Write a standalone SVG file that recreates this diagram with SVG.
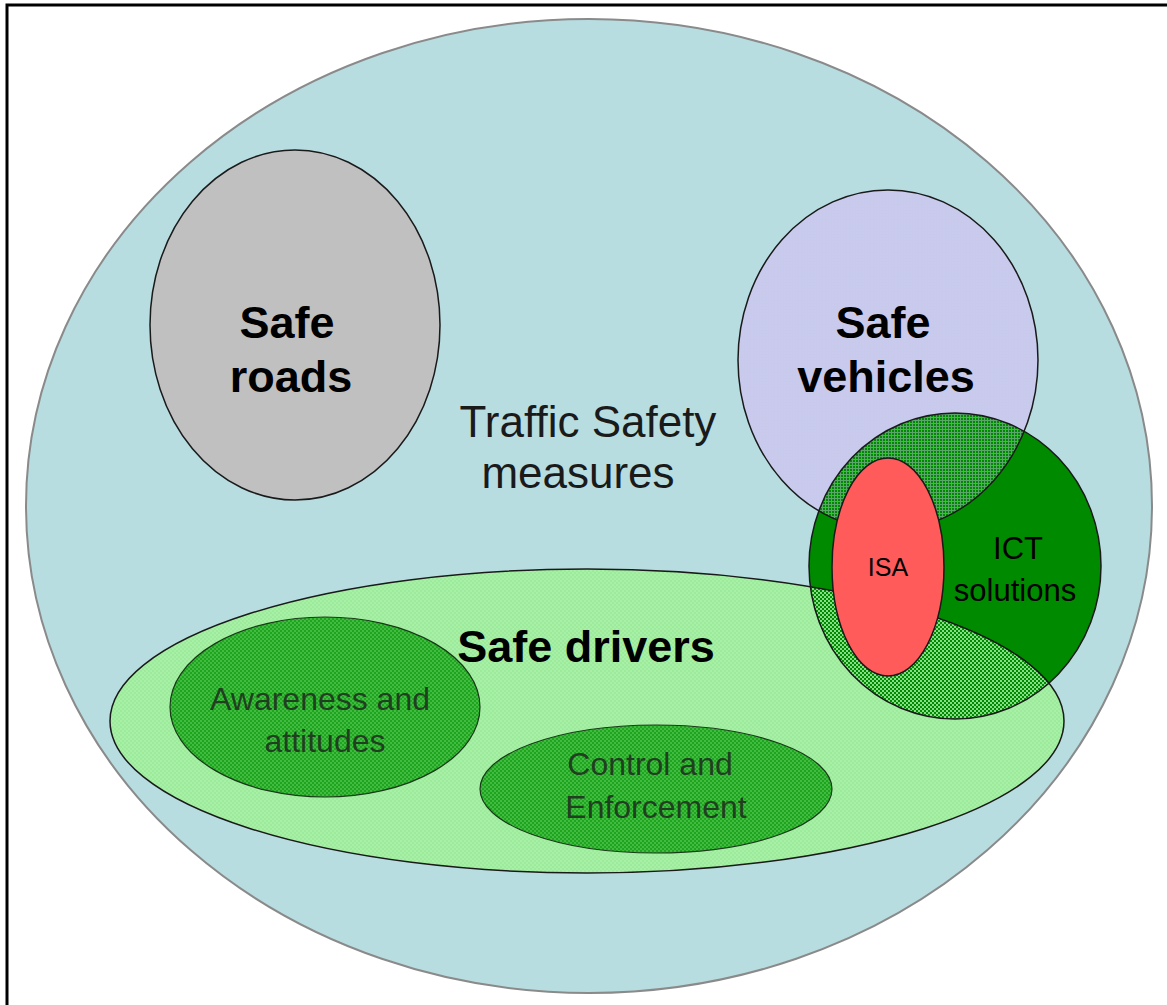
<svg xmlns="http://www.w3.org/2000/svg" width="1167" height="1005" viewBox="0 0 1167 1005">
  <style>
    .lbl { font-family: "Liberation Sans", Arial, sans-serif; text-anchor: middle; }
    .big { font-size: 45px; font-weight: bold; fill: #000; }
    .mid { font-size: 44px; fill: #1a1a1a; }
    .ict { font-size: 31px; fill: #000; }
    .isa { font-size: 25px; fill: #000; }
    .sub { font-size: 32px; fill: #1e2a1e; fill-opacity: 0.85; }
    .edge { fill: none; stroke: #1a1a1a; stroke-width: 1.5; }
  </style>
  <defs>
    <pattern id="vehGrid" patternUnits="userSpaceOnUse" width="3" height="3">
      <rect x="0" y="0" width="3" height="1" fill="#c8c8ee" fill-opacity="0.45"/>
      <rect x="0" y="1" width="1" height="2" fill="#c8c8ee" fill-opacity="0.45"/>
    </pattern>
    <pattern id="drvCheck" patternUnits="userSpaceOnUse" width="4" height="4">
      <rect x="0" y="0" width="2" height="2" fill="#a8f2a8" fill-opacity="0.8"/>
      <rect x="2" y="2" width="2" height="2" fill="#a8f2a8" fill-opacity="0.8"/>
    </pattern>
    <pattern id="subCheck" patternUnits="userSpaceOnUse" width="4" height="4">
      <rect x="0" y="0" width="4" height="4" fill="#1fa41f"/>
      <rect x="0" y="0" width="2" height="2" fill="#58cc58" fill-opacity="0.6"/>
      <rect x="2" y="2" width="2" height="2" fill="#58cc58" fill-opacity="0.6"/>
    </pattern>
  </defs>

  <rect x="7" y="5" width="1175" height="1020" fill="#ffffff" stroke="#000" stroke-width="3"/>

  <g id="node-traffic-safety">
    <ellipse cx="589" cy="506" rx="563" ry="487" fill="#b8dde1" stroke="#8a8a8a" stroke-width="2"/>
    <text class="lbl mid" x="588" y="437">Traffic Safety</text>
    <text class="lbl mid" x="578" y="488">measures</text>
  </g>

  <g id="node-safe-roads">
    <ellipse cx="295" cy="325" rx="145" ry="175" fill="#c0c0c0" stroke="#1a1a1a" stroke-width="1.5"/>
    <text class="lbl big" x="287" y="338">Safe</text>
    <text class="lbl big" x="291" y="392">roads</text>
  </g>

  <g id="underlays">
    <ellipse cx="888" cy="360" rx="150" ry="170" fill="#c9cbec"/>
    <ellipse cx="587" cy="721" rx="477" ry="152" fill="#9eea9c"/>
  </g>

  <g id="node-ict">
    <ellipse cx="955" cy="566" rx="146" ry="153" fill="#008a00"/>
  </g>

  <g id="node-safe-vehicles">
    <ellipse cx="888" cy="360" rx="150" ry="170" fill="url(#vehGrid)"/>
    <ellipse class="edge" cx="888" cy="360" rx="150" ry="170"/>
  </g>

  <g id="node-safe-drivers">
    <ellipse cx="587" cy="721" rx="477" ry="152" fill="url(#drvCheck)"/>
    <ellipse class="edge" cx="587" cy="721" rx="477" ry="152"/>
  </g>

  <g id="node-ict-outline">
    <ellipse class="edge" cx="955" cy="566" rx="146" ry="153"/>
    <text class="lbl ict" x="1018" y="559">ICT</text>
    <text class="lbl ict" x="1015" y="601">solutions</text>
  </g>

  <g id="node-isa">
    <ellipse cx="888" cy="567" rx="56" ry="109" fill="#ff5b5b" stroke="#1a1a1a" stroke-width="1.5"/>
    <text class="lbl isa" x="888" y="576">ISA</text>
  </g>

  <g id="node-awareness">
    <ellipse cx="325" cy="707" rx="155" ry="90" fill="url(#subCheck)" stroke="#1a3a1a" stroke-width="1.2"/>
    <text class="lbl sub" x="320" y="710">Awareness and</text>
    <text class="lbl sub" x="325" y="752">attitudes</text>
  </g>

  <g id="node-control">
    <ellipse cx="656" cy="789" rx="176" ry="64" fill="url(#subCheck)" stroke="#1a3a1a" stroke-width="1.2"/>
    <text class="lbl sub" x="650" y="775">Control and</text>
    <text class="lbl sub" x="656" y="818">Enforcement</text>
  </g>

  <g id="drivers-label">
    <text class="lbl big" x="586" y="662">Safe drivers</text>
  </g>
  <g id="vehicles-label">
    <text class="lbl big" x="883" y="338">Safe</text>
    <text class="lbl big" x="886" y="392">vehicles</text>
  </g>

  <g id="connectors"></g>
</svg>
